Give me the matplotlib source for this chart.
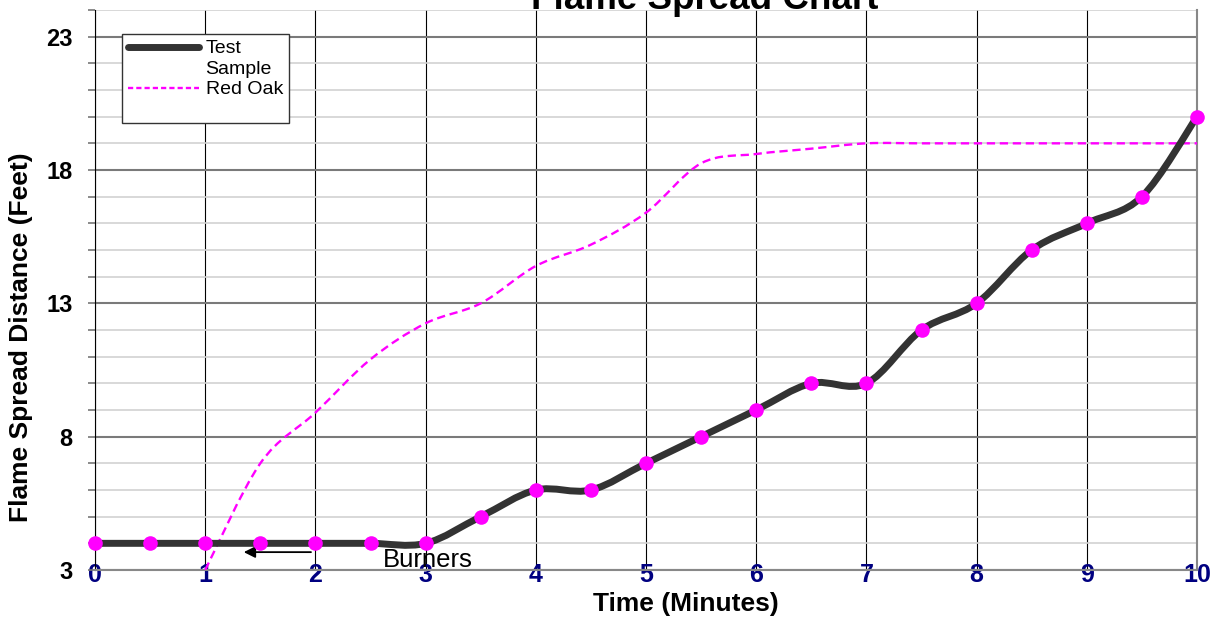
import numpy as np
import matplotlib; matplotlib.use('agg')
import matplotlib.pyplot as plt
from matplotlib.path import Path
from matplotlib.patches import PathPatch
from matplotlib.lines import Line2D
from matplotlib.ticker import MultipleLocator

plt.rcParams['font.family'] = ['Liberation Sans', 'DejaVu Sans']

# time (minutes) and flame front distance (feet)
test_time = [0, 0.5, 1, 1.5, 2, 2.5, 3, 3.5, 4, 4.5, 5, 5.5, 6, 6.5, 7, 7.5, 8, 8.5, 9, 9.5, 10]
test_dist = [4, 4, 4, 4, 4, 4, 4, 5, 6, 6, 7, 8, 9, 10, 10, 12, 13, 15, 16, 17, 20]

oak_time = [1, 1.5, 2, 2.5, 3, 3.5, 4, 4.5, 5, 5.5, 6, 6.5, 7, 7.5, 8, 8.5, 9, 9.5, 10]
oak_dist = [3, 7, 8.9, 10.9, 12.25, 13, 14.4, 15.2, 16.4, 18.25, 18.6, 18.8, 19, 19, 19, 19, 19, 19, 19]

y_ticks = [3, 8, 13, 18, 23]
x_ticks = list(range(0, 11))


def smooth_path(xs, ys):
    # excel-style smoothed line: cubic bezier through every point
    pts = np.column_stack([xs, ys]).astype(float)
    n = len(pts)
    verts = [pts[0]]
    codes = [Path.MOVETO]
    for i in range(n - 1):
        p0 = pts[i - 1] if i > 0 else pts[i]
        p1 = pts[i]
        p2 = pts[i + 1]
        p3 = pts[i + 2] if i + 2 < n else pts[i + 1]
        verts += [p1 + (p2 - p0) / 6, p2 - (p3 - p1) / 6, p2]
        codes += [Path.CURVE4] * 3
    return Path(verts, codes)


def main():
    fig = plt.figure(figsize=(12.14, 6.17), dpi=100)
    ax = fig.add_axes([95 / 1214, 47 / 617, 1102 / 1214, 560 / 617])

    ax.set_xlim(0, 10)
    ax.set_ylim(3, 24)

    ax.set_yticks(y_ticks)
    ax.yaxis.set_minor_locator(MultipleLocator(1))
    ax.set_xticks(x_ticks)

    # grid
    ax.grid(which='minor', axis='y', color='#d2d2d2', lw=1.2)
    ax.grid(which='major', axis='y', color='#7a7a7a', lw=1.5)
    ax.grid(which='major', axis='x', color='black', lw=0.8)
    ax.set_axisbelow(True)

    ax.spines['top'].set_visible(False)
    ax.spines['left'].set_color('black')
    ax.spines['left'].set_linewidth(0.8)
    ax.spines['right'].set_color('#888888')
    ax.spines['right'].set_linewidth(1.5)
    ax.spines['bottom'].set_color('#888888')
    ax.spines['bottom'].set_linewidth(1.5)

    ax.tick_params(axis='y', which='both', length=5, width=1.2, color='#777777',
                   pad=11, labelsize=17)
    ax.tick_params(axis='x', length=0, pad=-5, labelsize=18, labelcolor='#000080')
    for lbl in ax.get_yticklabels() + ax.get_xticklabels():
        lbl.set_fontweight('bold')

    oak = PathPatch(smooth_path(oak_time, oak_dist), fill=False, edgecolor='#ff00ff',
                    lw=1.7, linestyle=(0, (3.5, 2)), zorder=3)
    ax.add_patch(oak)

    test = PathPatch(smooth_path(test_time, test_dist), fill=False, edgecolor='#333333',
                     lw=5, capstyle='round', joinstyle='round', zorder=4)
    ax.add_patch(test)
    ax.plot(test_time, test_dist, 'o', color='#ff00ff', ms=10.5, mew=0, zorder=5,
            clip_on=False)

    # burners marker
    ax.annotate('', xy=(1.35, 3.67), xytext=(1.96, 3.67),
                arrowprops=dict(arrowstyle='-|>', color='black', lw=1.3,
                                mutation_scale=17, shrinkA=0, shrinkB=0))
    ax.text(2.61, 3.11, 'Burners', fontsize=18.5, va='baseline', ha='left')

    # legend: the wrapped "Test Sample" label keeps its line beside "Test"
    handles = [Line2D([], [], color='#333333', lw=5, solid_capstyle='round'),
               Line2D([], [], color='none'),
               Line2D([], [], color='#ff00ff', lw=1.7, linestyle=(0, (2.2, 1.3))),
               Line2D([], [], color='none')]
    leg = ax.legend(handles, ['Test', 'Sample', 'Red Oak', ' '], loc='upper left',
                    bbox_to_anchor=(27 / 1102, 536 / 560), borderaxespad=0,
                    fontsize=14, frameon=True, fancybox=False, handlelength=3.65,
                    handletextpad=0.35, labelspacing=0.15, borderpad=0.3)
    leg.get_frame().set_edgecolor('#333333')
    leg.get_frame().set_linewidth(1.0)
    leg.get_frame().set_alpha(1)
    leg.get_texts()[3].set_fontsize(6)

    ax.set_xlabel('Time (Minutes)', fontsize=19, fontweight='bold')
    ax.xaxis.set_label_coords(591 / 1102, -22 / 560)
    ax.set_ylabel('Flame Spread Distance (Feet)', fontsize=19, fontweight='bold')
    ax.yaxis.set_label_coords(-62 / 1102, 233 / 560)
    fig.text(705 / 1214, 608 / 617, 'Flame Spread Chart', fontsize=26.5,
             fontweight='bold', ha='center', va='baseline')

    fig.savefig('out.png', dpi=100)


if __name__ == '__main__':
    main()
